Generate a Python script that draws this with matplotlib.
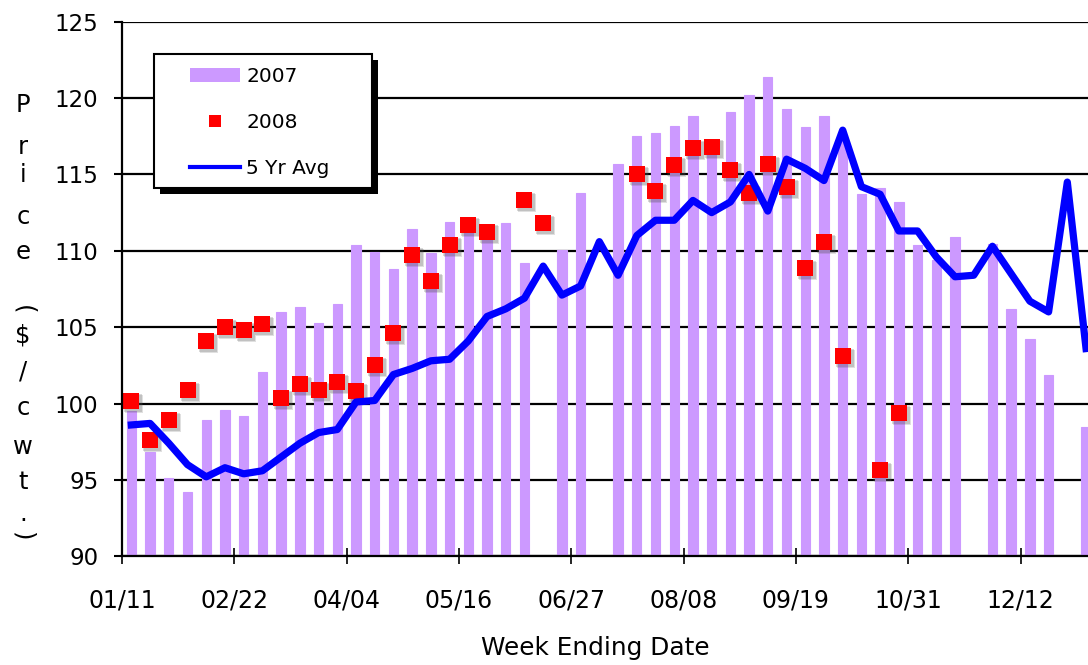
import numpy as np
import matplotlib
matplotlib.use("Agg")
import matplotlib.pyplot as plt
import matplotlib.transforms as mtransforms
from matplotlib.patches import Rectangle, Patch
from matplotlib.lines import Line2D

# weekly prices, $/cwt (52 weeks); None = no report that week
price_2007 = [99.5, 96.8, 95.1, 94.2, 98.9, 99.6, 99.2, 102.05, 106.0, 106.3,
              105.3, 106.5, 110.4, 109.9, 108.8, 111.4, 109.85, 111.9, 112.0, 111.4,
              111.8, 109.2, None, 110.05, 113.8, None, 115.7, 117.5, 117.7, 118.2,
              118.8, 116.8, 119.1, 120.2, 121.4, 119.3, 118.1, 118.8, 117.3, 113.7,
              114.1, 113.2, 110.4, 109.4, 110.9, None, 110.45, 106.2, 104.2, 101.9,
              None, 98.45]

price_2008 = [100.2, 97.6, 98.9, 100.9, 104.1, 105.0, 104.8, 105.2, 100.35, 101.3,
              100.9, 101.4, 100.8, 102.5, 104.6, 109.7, 108.0, 110.4, 111.7, 111.2,
              None, 113.3, 111.8, None, None, None, None, 115.0, 113.9, 115.6,
              116.7, 116.8, 115.3, 113.8, 115.7, 114.2, 108.9, 110.6, 103.1, None,
              95.65, 99.4, None, None, None, None, None, None, None, None,
              None, None]

avg_5yr = [98.6, 98.7, 97.4, 96.0, 95.2, 95.8, 95.4, 95.6, 96.5, 97.4,
           98.1, 98.3, 100.1, 100.2, 101.9, 102.3, 102.8, 102.9, 104.1, 105.7,
           106.2, 106.9, 109.0, 107.1, 107.7, 110.6, 108.4, 111.0, 112.0, 112.0,
           113.3, 112.5, 113.2, 115.0, 112.6, 116.0, 115.4, 114.6, 117.9, 114.2,
           113.7, 111.3, 111.3, 109.6, 108.3, 108.4, 110.3, 108.5, 106.7, 106.0,
           114.5, 103.6]

tick_labels = ['01/11', '02/22', '04/04', '05/16', '06/27', '08/08', '09/19', '10/31', '12/12']
ylabel_chars = ['P', 'r', 'i', 'c', 'e', '(', '$', '/', 'c', 'w', 't', '.', ')']
ylabel_ypix = [105, 147, 175, 217, 252, 310, 335, 372, 408, 447, 482, 514, 537]

PURPLE = '#CC99FF'
RED = '#FF0000'
BLUE = '#0000FF'

W, H = 1088, 665
fig = plt.figure(figsize=(W / 100, H / 100), dpi=100)
ax = fig.add_axes([122 / W, 1 - 556.3 / H, 973.4 / W, 534.6 / H])

x = np.arange(len(avg_5yr))
base = 90
heights = [0 if v is None else v - base for v in price_2007]
ax.bar(x, heights, bottom=base, width=0.5, color=PURPLE, edgecolor=PURPLE,
       linewidth=0.8, zorder=2)

# 2008 squares with a soft drop shadow
y08 = np.array([np.nan if v is None else v for v in price_2008])
for dx, dy, a, ms in [(3, -3, 0.18, 13.5), (2, -2, 0.22, 12.5)]:
    off = mtransforms.offset_copy(ax.transData, fig=fig, x=dx, y=dy, units='dots')
    ax.plot(x, y08, 's', color='#555555', alpha=a, ms=ms, mew=0, transform=off, zorder=3)
ax.plot(x, y08, 's', color=RED, ms=12, mew=0, zorder=4)

ax.plot(x, avg_5yr, '-', color=BLUE, lw=5.2, solid_joinstyle='round', zorder=5)

ax.set_xlim(-0.5, len(avg_5yr) - 0.5)
ax.set_ylim(90, 125)
ax.set_yticks(np.arange(90, 126, 5))
ax.yaxis.grid(True, color='black', lw=1.6)
ax.set_axisbelow(True)

tick_pos = np.arange(len(tick_labels)) * 6 - 0.5
ax.set_xticks(tick_pos)
ax.set_xticklabels(tick_labels)
for lab in ax.get_xticklabels():
    lab.set_transform(lab.get_transform() + mtransforms.ScaledTranslation(3 / 100, 0, fig.dpi_scale_trans))

ax.tick_params(axis='x', direction='inout', length=12, width=1.2, pad=17, labelsize=17)
ax.tick_params(axis='y', direction='out', length=6, width=1.5, pad=11, labelsize=16.5)
for s in ['top', 'right']:
    ax.spines[s].set_visible(False)
for s in ['left', 'bottom']:
    ax.spines[s].set_linewidth(1.6)
    ax.spines[s].set_zorder(6)

fig.text(595 / W, 1 - 648 / H, 'Week Ending Date', ha='center', va='center', fontsize=17.8)

# stacked vertical y label
for ch, yp in zip(ylabel_chars, ylabel_ypix):
    rot = -90 if ch in '()' else 0
    fig.text(23 / W, 1 - yp / H, ch, ha='center', va='center', fontsize=17.5, rotation=rot)

# legend box with shadow
bx0, by0, bw, bh = 154, 54, 218, 134
fig.patches.append(Rectangle(((bx0 + 6) / W, 1 - (by0 + bh + 6) / H), bw / W, bh / H,
                             transform=fig.transFigure, facecolor='black', edgecolor='none', zorder=10))
fig.patches.append(Rectangle((bx0 / W, 1 - (by0 + bh) / H), bw / W, bh / H,
                             transform=fig.transFigure, facecolor='white', edgecolor='black',
                             lw=1.5, zorder=11))
handles = [Patch(facecolor=PURPLE, edgecolor='none'),
           Line2D([], [], ls='none', marker='s', color=RED, ms=9, mew=0),
           Line2D([], [], color=BLUE, lw=3)]
leg = fig.legend(handles, ['2007', '2008', '5 Yr Avg'], loc='upper left',
                 bbox_to_anchor=(190 / W, 1 - 67 / H), bbox_transform=fig.transFigure,
                 frameon=False, fontsize=14.5, borderpad=0, borderaxespad=0,
                 handlelength=2.5, handleheight=0.7, handletextpad=0.3, labelspacing=1.33)
leg.set_zorder(12)

fig.savefig('out.png', dpi=100)
